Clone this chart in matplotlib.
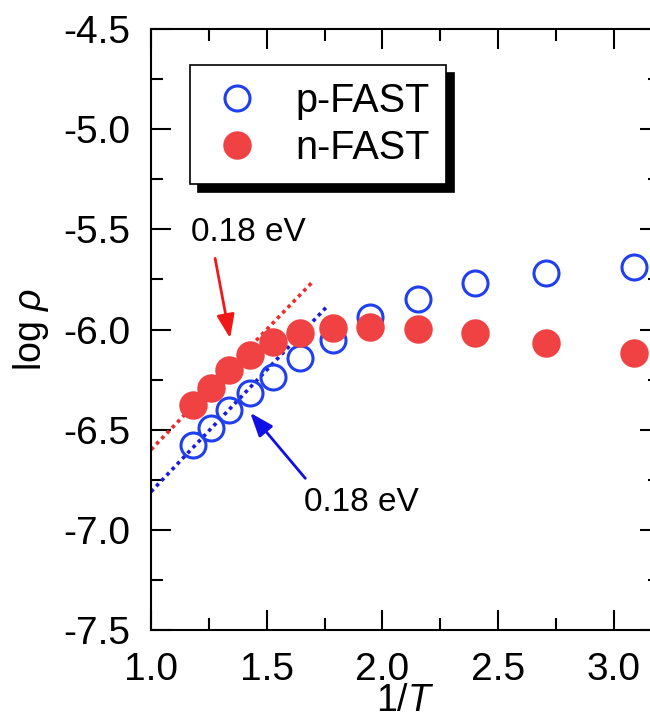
import matplotlib
matplotlib.use('Agg')
import matplotlib.pyplot as plt
from matplotlib.ticker import MultipleLocator

plt.rcParams['font.family'] = ['Liberation Sans', 'DejaVu Sans']
plt.rcParams['mathtext.fontset'] = 'custom'
plt.rcParams['mathtext.rm'] = 'Liberation Sans'
plt.rcParams['mathtext.it'] = 'Liberation Sans:italic'

# 1/T values (shared by both samples)
inv_T = [1.183, 1.258, 1.335, 1.426, 1.527, 1.642, 1.787, 1.948, 2.155, 2.400, 2.706, 3.088]
# log rho, p-FAST (open blue) and n-FAST (filled red)
p_fast = [-6.577, -6.490, -6.402, -6.316, -6.236, -6.144, -6.053, -5.936, -5.849, -5.770, -5.720, -5.687]
n_fast = [-6.377, -6.294, -6.202, -6.128, -6.061, -6.019, -5.994, -5.989, -5.999, -6.019, -6.069, -6.116]

# 0.18 eV activation fits (dotted)
n_fit_x = [1.0, 1.70]
n_fit_y = [-6.60, -5.76]
p_fit_x = [1.0, 1.765]
p_fit_y = [-6.81, -5.88]

blue = '#1f3ff0'
red = '#f04242'

fig = plt.figure(figsize=(6.5, 7.24), dpi=100)
ax = fig.add_axes([151/650, 94/724, 509/650, 601/724])

ax.plot(n_fit_x, n_fit_y, color='#ee2a2a', lw=2.6, ls=(0, (1, 1.1)), zorder=2)
ax.plot(p_fit_x, p_fit_y, color='#1a1ae0', lw=2.6, ls=(0, (1, 1.1)), zorder=2)

ax.plot(inv_T, p_fast, 'o', ms=18, mfc='none', mec=blue, mew=2.2, label='p-FAST', zorder=3)
ax.plot(inv_T, n_fast, 'o', ms=20.5, mfc=red, mec='none', label='n-FAST', zorder=4)

# arrows + labels
ax.annotate('', xy=(1.342, -6.044), xytext=(1.277, -5.645),
            arrowprops=dict(arrowstyle='-|>,head_length=0.8,head_width=0.3', color='#f01818',
                            lw=2, mutation_scale=18, shrinkA=0, shrinkB=0), zorder=5)
ax.annotate('', xy=(1.429, -6.416), xytext=(1.667, -6.743),
            arrowprops=dict(arrowstyle='-|>,head_length=0.8,head_width=0.3', color='#1010e6',
                            lw=2, mutation_scale=18, shrinkA=0, shrinkB=0), zorder=5)
ax.text(1.42, -5.518, '0.18 eV', fontsize=24, ha='center', va='center')
ax.text(1.911, -6.866, '0.18 eV', fontsize=24, ha='center', va='center')

ax.set_xlim(1.0, 3.2)
ax.set_ylim(-7.5, -4.5)
ax.xaxis.set_major_locator(MultipleLocator(0.5))
ax.xaxis.set_minor_locator(MultipleLocator(0.25))
ax.yaxis.set_major_locator(MultipleLocator(0.5))
ax.yaxis.set_minor_locator(MultipleLocator(0.25))
ax.xaxis.set_major_formatter(plt.FormatStrFormatter('%.1f'))
ax.yaxis.set_major_formatter(plt.FormatStrFormatter('%.1f'))

ax.tick_params(which='both', direction='in', top=True, right=True, width=1.5, labelsize=28)
ax.tick_params(which='major', length=14.5)
ax.tick_params(which='minor', length=8.5)
ax.tick_params(axis='x', which='major', pad=16)
ax.tick_params(axis='y', which='major', pad=15)
for s in ax.spines.values():
    s.set_linewidth(1.5)

ax.set_xlabel('1/$T$', fontsize=27, labelpad=-4)
ax.set_ylabel(r'log $\rho$', fontsize=27, labelpad=9)

leg = ax.legend(loc='upper left', bbox_to_anchor=(0.0766, 0.940), borderaxespad=0,
                fontsize=28.5, numpoints=1, handlelength=1.54, handletextpad=0.7,
                borderpad=0.42, labelspacing=0.24, fancybox=False, framealpha=1,
                edgecolor='black', shadow={'ox': 5.8, 'oy': -5.8, 'color': 'black', 'alpha': 1})
leg.get_frame().set_linewidth(1.2)

fig.savefig('out.png', dpi=100)
